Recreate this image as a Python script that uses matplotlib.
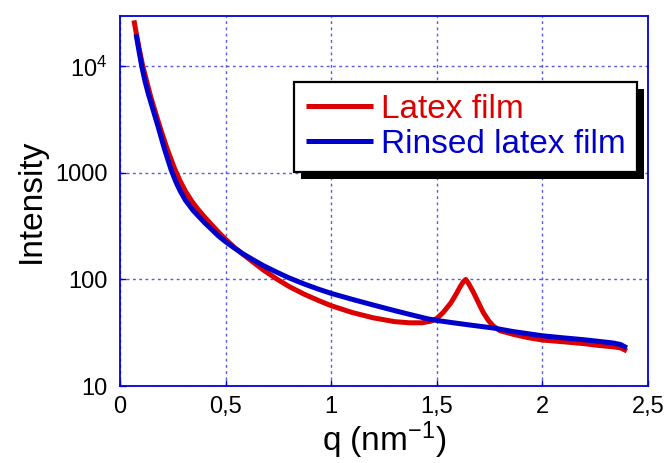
import matplotlib
matplotlib.use("Agg")
import matplotlib.pyplot as plt
from matplotlib.patches import Rectangle
from matplotlib.transforms import IdentityTransform

plt.rcParams['font.family'] = ['Liberation Sans', 'DejaVu Sans']
plt.rcParams['mathtext.fontset'] = 'custom'
plt.rcParams['mathtext.rm'] = 'Liberation Sans'
plt.rcParams['mathtext.it'] = 'Liberation Sans:italic'
plt.rcParams['mathtext.bf'] = 'Liberation Sans:bold'

# ---- data ----
q_latex = [0.066, 0.075, 0.085, 0.095, 0.108, 0.125, 0.144, 0.165, 0.193,
           0.222, 0.257, 0.284, 0.31, 0.34, 0.368, 0.40, 0.44, 0.47, 0.50,
           0.54, 0.584, 0.63, 0.678, 0.742, 0.80, 0.87, 0.94, 1.0, 1.1,
           1.2, 1.3, 1.37, 1.43, 1.47, 1.50, 1.53, 1.566, 1.59, 1.61,
           1.625, 1.637, 1.65, 1.673, 1.70, 1.72, 1.745, 1.768, 1.80, 1.863,
           1.93, 2.0, 2.1, 2.195, 2.27, 2.337, 2.37, 2.39, 2.40]
I_latex = [27000, 21500, 16800, 13300, 10000, 7400, 5300, 3850, 2550,
           1708, 1114, 843, 671, 542, 458, 386, 316, 273, 238,
           201, 171, 145.5, 123, 101, 86, 73, 63.4, 56.7, 48.9,
           43.6, 40.2, 39.2, 39.2, 40.5, 43, 49, 60, 72, 85,
           95, 100, 92, 76, 59, 49, 41, 36.5, 33, 30.5,
           28.5, 27, 26, 25, 24, 23.3, 22.8, 21.8, 21.3]

q_rinsed = [0.076, 0.085, 0.094, 0.103, 0.118, 0.134, 0.155, 0.181, 0.21,
            0.242, 0.265, 0.284, 0.31, 0.347, 0.40, 0.465, 0.50, 0.54,
            0.584, 0.63, 0.678, 0.742, 0.80, 0.87, 0.94, 1.0, 1.1, 1.2,
            1.3, 1.36, 1.455, 1.5, 1.566, 1.65, 1.768, 1.863, 1.93, 2.0,
            2.1, 2.195, 2.27, 2.337, 2.37, 2.40]
I_rinsed = [20000, 15800, 12500, 10000, 7300, 5520, 4000, 2690, 1687,
            1069, 820, 682, 553, 442, 342, 257, 226, 198,
            173, 153, 135, 117, 103.5, 91, 81, 74, 65, 57.5,
            51, 47.6, 42.8, 41.2, 39.5, 37.5, 35, 32.4, 31, 29.6,
            28.3, 27.2, 26.2, 25.3, 24.5, 22.8]

x_ticks = [0, 0.5, 1, 1.5, 2, 2.5]
x_ticklabels = ['0', '0,5', '1', '1,5', '2', '2,5']
y_ticks = [10, 100, 1000, 10000]
y_ticklabels = ['10', '100', '1000', '$10^4$']
series_labels = ['Latex film', 'Rinsed latex film']

red = '#dd0000'
blue = '#0000cc'
axis_blue = '#0000dd'
grid_blue = '#5858e8'

fig = plt.figure(figsize=(6.66, 4.63), dpi=100)
ax = fig.add_axes([0.1802, 0.1663, 0.7928, 0.8002])

l1, = ax.plot(q_latex, I_latex, color=red, lw=3.6, solid_capstyle='butt',
              solid_joinstyle='round')
l2, = ax.plot(q_rinsed, I_rinsed, color=blue, lw=3.6, solid_capstyle='butt',
              solid_joinstyle='round')

ax.set_yscale('log')
ax.set_xlim(0, 2.5)
ax.set_ylim(10, 3e4)
ax.set_xticks(x_ticks)
ax.set_xticklabels(x_ticklabels)
ax.set_yticks(y_ticks)
ax.set_yticklabels(y_ticklabels)
ax.minorticks_off()
ax.tick_params(axis='both', which='major', direction='in', length=4,
               color=axis_blue, labelsize=17, labelcolor='black', width=1)
ax.tick_params(axis='y', pad=9)
ax.tick_params(axis='x', pad=7)

for s in ax.spines.values():
    s.set_color(axis_blue)
    s.set_linewidth(1.3)

ax.grid(True, which='major', color=grid_blue, linestyle=(0, (2, 2.5)), linewidth=1.0)
ax.set_axisbelow(True)

ax.set_xlabel('q (nm$^{-1}$)', fontsize=24, labelpad=1)
ax.set_ylabel('Intensity', fontsize=24, labelpad=6)

leg = ax.legend([l1, l2], series_labels, loc='upper left',
                bbox_to_anchor=(0.33, 0.82), borderaxespad=0,
                fontsize=24, handlelength=2.0, handletextpad=0.25,
                labelspacing=0.12, borderpad=0.35, fancybox=False,
                framealpha=1, edgecolor='black')
leg.get_frame().set_linewidth(1.6)
for t, c in zip(leg.get_texts(), [red, blue]):
    t.set_color(c)

fig.canvas.draw()
bb = leg.get_window_extent()
shadow = Rectangle((bb.x0 + 7, bb.y0 - 7), bb.width, bb.height,
                   transform=IdentityTransform(), facecolor='black',
                   edgecolor='none', zorder=4.9, clip_on=False)
ax.add_artist(shadow)
leg.set_zorder(5)

fig.savefig('out.png', dpi=100)
